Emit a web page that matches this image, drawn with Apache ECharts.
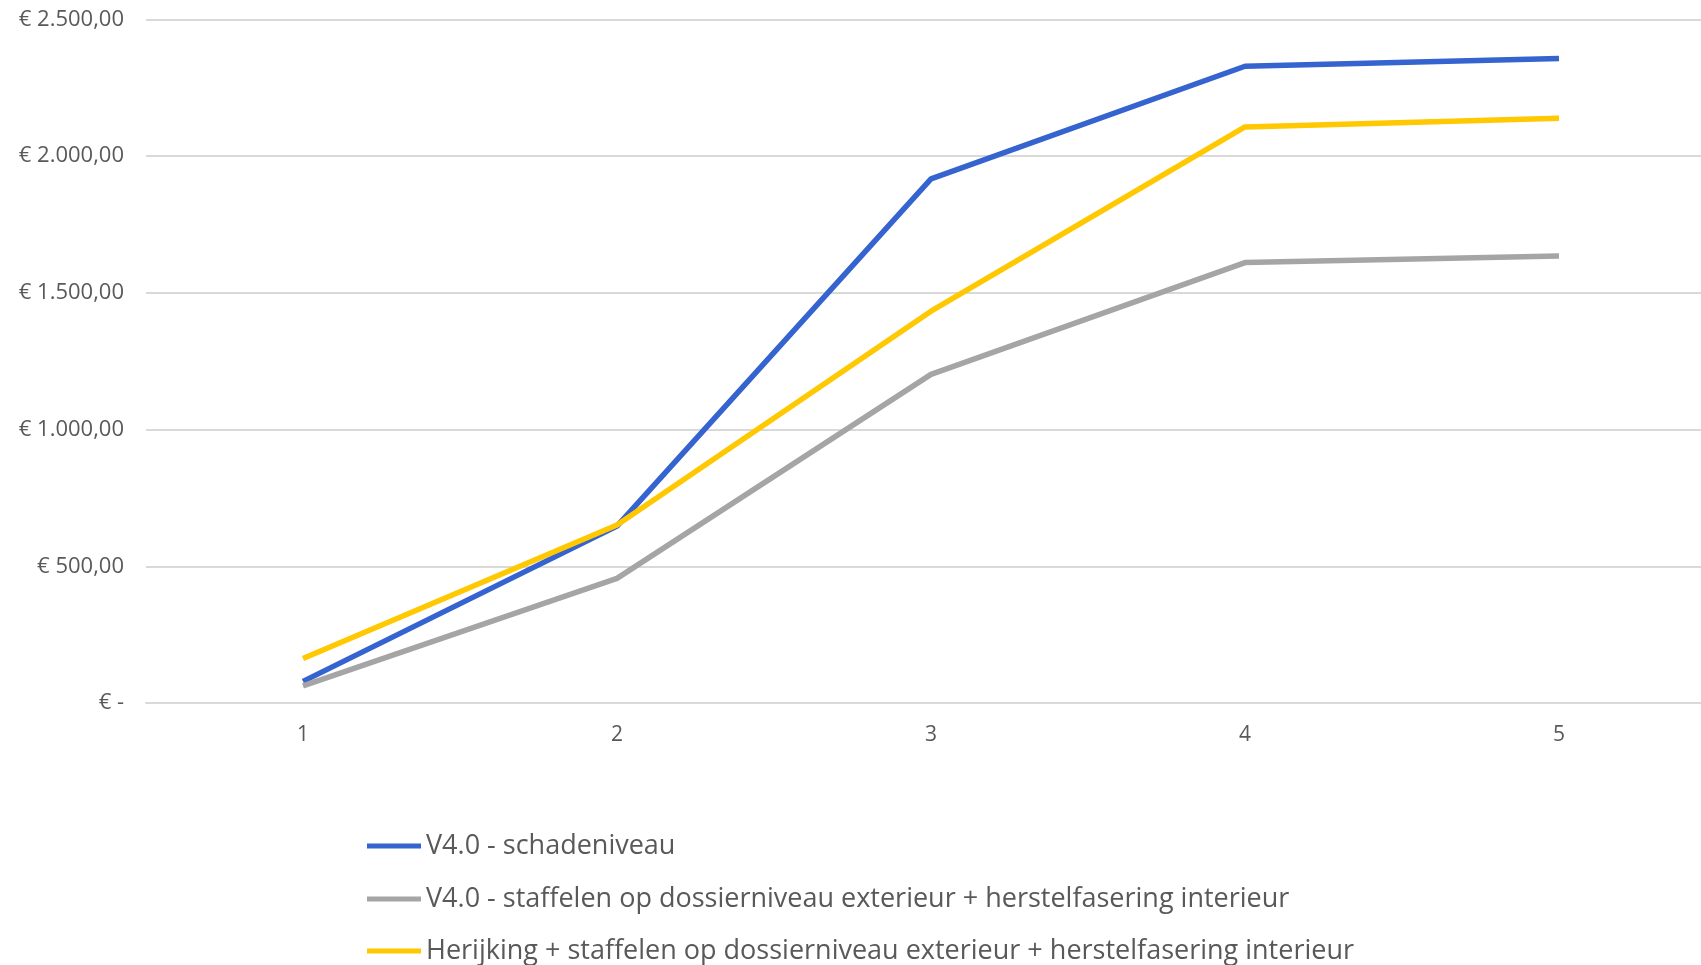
<!DOCTYPE html>
<html>
<head>
<meta charset="utf-8">
<script src="https://cdn.jsdelivr.net/npm/echarts@6/dist/echarts.min.js"></script>
<style>html,body{margin:0;padding:0;background:#fff;}#c{width:1701px;height:965px;}</style>
</head>
<body>
<div id="c"></div>
<script>
var categories = ['1', '2', '3', '4', '5'];
var seriesNames = [
  'V4.0 - schadeniveau',
  'V4.0 - staffelen op dossierniveau exterieur + herstelfasering interieur',
  'Herijking + staffelen op dossierniveau exterieur + herstelfasering interieur'
];
var blueValues = [79, 647, 1917, 2329, 2357];
var greyValues = [63, 456, 1202, 1611, 1635];
var yellowValues = [163, 651, 1433, 2107, 2139];
var yTicks = [0, 500, 1000, 1500, 2000, 2500];

function fmt(v) {
  if (v === 0) return '€ -';
  return '€ ' + v.toLocaleString('nl-NL', {minimumFractionDigits: 2, maximumFractionDigits: 2});
}

var chart = echarts.init(document.getElementById('c'));
var font = '"Open Sans", "Noto Sans", sans-serif';
var legendRowTops = [831, 884, 936];
var legends = seriesNames.map(function (n, i) {
  return {
    orient: 'vertical',
    left: 367,
    top: legendRowTops[i],
    padding: 0,
    icon: 'rect',
    itemWidth: 54,
    itemHeight: 5,
    textStyle: { fontFamily: font, fontSize: 27, color: '#595959', lineHeight: 30 },
    data: [n]
  };
});
chart.setOption({
  animation: false,
  backgroundColor: '#ffffff',
  grid: { left: 146, top: 19.5, width: 1570, height: 683.5, containLabel: false, outerBoundsMode: 'none' },
  legend: legends,
  xAxis: {
    type: 'category',
    data: categories,
    boundaryGap: true,
    axisLine: { show: true, lineStyle: { color: '#d9d9d9', width: 2 } },
    axisTick: { show: false },
    axisLabel: { fontFamily: font, fontSize: 21, color: '#595959', margin: 22 }
  },
  yAxis: {
    type: 'value',
    min: 0,
    max: 2500,
    interval: 500,
    axisLine: { show: false },
    axisTick: { show: false },
    splitLine: { lineStyle: { color: '#d9d9d9', width: 2 } },
    axisLabel: { fontFamily: font, fontSize: 22, color: '#595959', margin: 22, formatter: fmt }
  },
  series: [
    { name: seriesNames[0], type: 'line', data: blueValues, symbol: 'none',
      lineStyle: { color: '#3563CF', width: 5.5 }, itemStyle: { color: '#3563CF' } },
    { name: seriesNames[1], type: 'line', data: greyValues, symbol: 'none',
      lineStyle: { color: '#A5A5A5', width: 5.5 }, itemStyle: { color: '#A5A5A5' } },
    { name: seriesNames[2], type: 'line', data: yellowValues, symbol: 'none',
      lineStyle: { color: '#FFC800', width: 5.5 }, itemStyle: { color: '#FFC800' } }
  ]
});
</script>
</body>
</html>
